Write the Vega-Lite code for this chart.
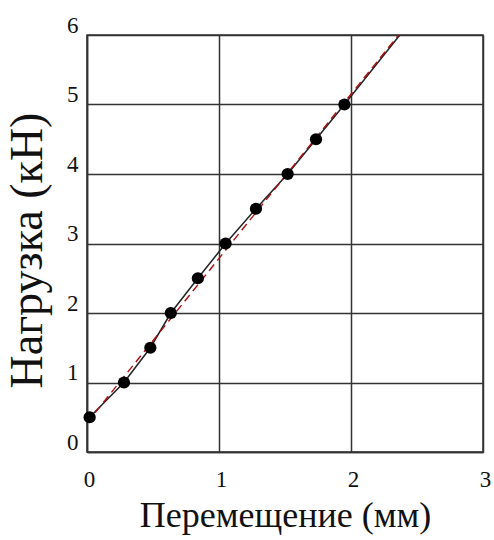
{
  "$schema": "https://vega.github.io/schema/vega-lite/v6.json",
  "width": 396,
  "height": 417,
  "autosize": {"type": "none"},
  "padding": {"left": 87, "top": 35, "right": 11, "bottom": 88},
  "background": "white",
  "config": {
    "view": {"stroke": "#333", "strokeWidth": 1.5},
    "axis": {
      "grid": true, "gridColor": "#333", "gridWidth": 1.5, "gridOpacity": 1,
      "domainColor": "#333", "domainWidth": 1.5,
      "ticks": false,
      "labelFont": "Liberation Serif", "labelFontSize": 23, "labelColor": "#111",
      "titleFont": "Liberation Serif", "titleFontWeight": "normal", "titleColor": "#111", "titleLimit": 1000
    }
  },
  "datasets": {
    "pts": [
      {"x": 0.02, "y": 0.5},
      {"x": 0.28, "y": 1.0},
      {"x": 0.48, "y": 1.5},
      {"x": 0.635, "y": 2.0},
      {"x": 0.84, "y": 2.5},
      {"x": 1.05, "y": 3.0},
      {"x": 1.28, "y": 3.5},
      {"x": 1.52, "y": 4.0},
      {"x": 1.735, "y": 4.5},
      {"x": 1.95, "y": 5.0}
    ],
    "curve": [
      {"x": 0.0, "y": 0.45},
      {"x": 0.02, "y": 0.5},
      {"x": 0.28, "y": 1.0},
      {"x": 0.48, "y": 1.5},
      {"x": 0.635, "y": 2.0},
      {"x": 0.84, "y": 2.5},
      {"x": 1.05, "y": 3.0},
      {"x": 1.28, "y": 3.5},
      {"x": 1.52, "y": 4.0},
      {"x": 1.735, "y": 4.5},
      {"x": 1.95, "y": 5.0},
      {"x": 2.37, "y": 6.0}
    ],
    "fit": [
      {"x": 0.0, "y": 0.42},
      {"x": 2.36, "y": 6.0}
    ]
  },
  "encoding": {
    "x": {"field": "x", "type": "quantitative",
      "scale": {"domain": [0, 3], "nice": false, "zero": false},
      "axis": {"values": [0, 1, 2, 3], "title": "Перемещение (мм)", "titleFontSize": 36, "labelPadding": 16, "titlePadding": 7, "labelOffset": 2, "labelFlush": false}},
    "y": {"field": "y", "type": "quantitative",
      "scale": {"domain": [0, 6], "nice": false, "zero": false},
      "axis": {"values": [0, 1, 2, 3, 4, 5, 6], "title": "Нагрузка (кН)", "titleFontSize": 46, "titleY": 215, "labelPadding": 9, "labelOffset": -10, "titlePadding": 15, "labelFlush": false}}
  },
  "layer": [
    {"data": {"name": "curve"}, "mark": {"type": "line", "color": "#222", "strokeWidth": 1.5, "clip": true}},
    {"data": {"name": "fit"}, "mark": {"type": "line", "color": "#b01010", "strokeWidth": 1.4, "strokeDash": [8, 5], "clip": true}},
    {"data": {"name": "pts"}, "mark": {"type": "point", "shape": "circle", "filled": true, "color": "#000", "opacity": 1, "size": 150}}
  ]
}
